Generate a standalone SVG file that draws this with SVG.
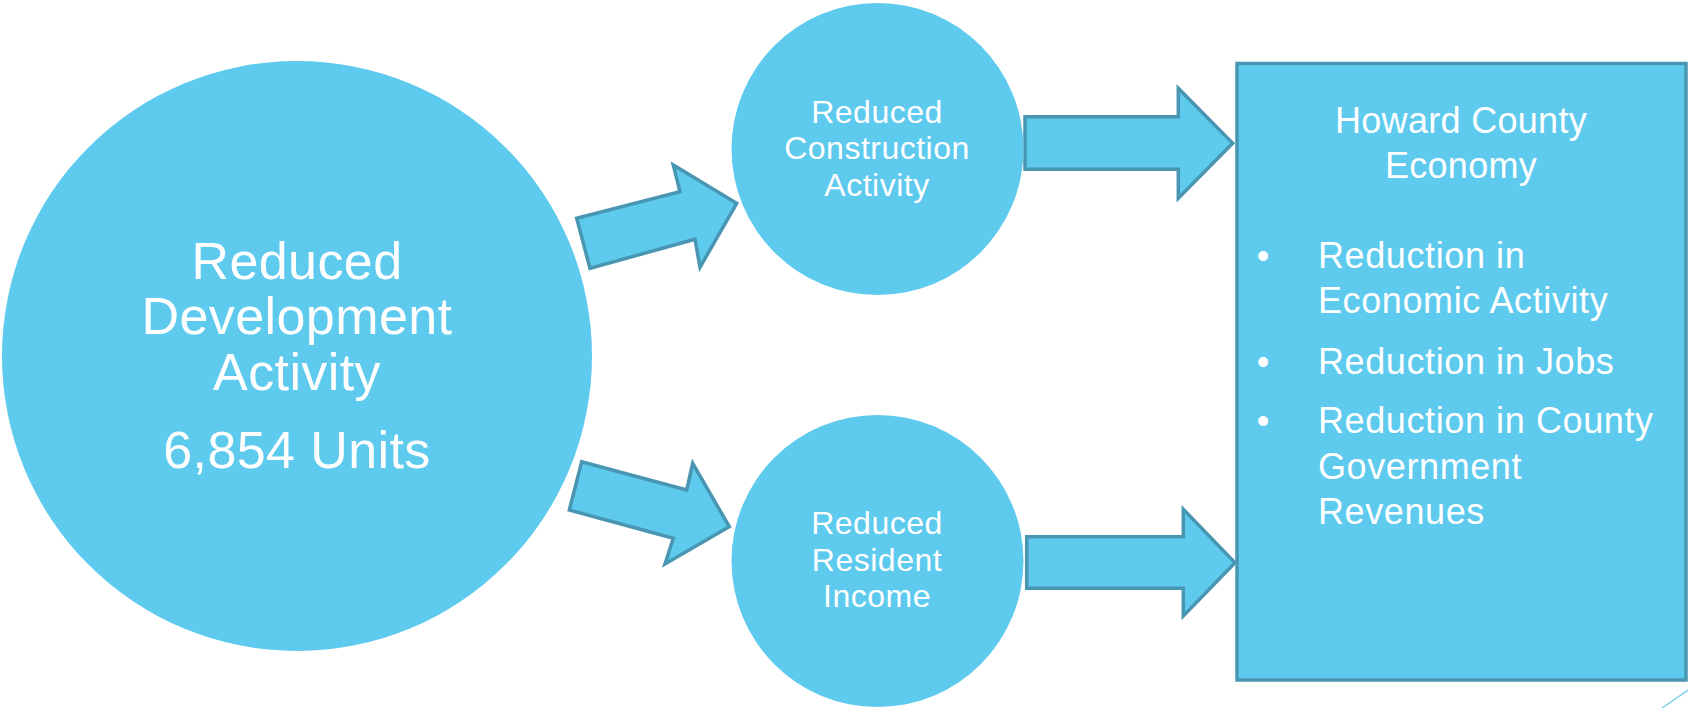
<svg xmlns="http://www.w3.org/2000/svg" width="1688" height="708" viewBox="0 0 1688 708">
  <style>
    .node { fill: #5ECAEE; }
    .box { fill: #5ECAEE; stroke: #4896B2; stroke-width: 3.5; }
    .arrow { fill: #5ECAEE; stroke: #4896B2; stroke-width: 3.5; stroke-linejoin: miter; }
    text { font-family: "Liberation Sans", Arial, sans-serif; fill: #FFFFFF; }
    .big { font-size: 52px; text-anchor: middle; letter-spacing: 0.4px; }
    .mid { font-size: 32px; text-anchor: middle; letter-spacing: 0.5px; }
    .head { font-size: 36px; text-anchor: middle; letter-spacing: 0.3px; }
    .item { font-size: 36px; letter-spacing: 0.6px; }
    .dot { font-size: 36px; text-anchor: middle; }
  </style>
  <rect width="1688" height="708" fill="#FFFFFF"/>

  <!-- connectors -->
  <g id="connectors">
    <polygon class="arrow" points="576.7,218.3 680,191.7 673.3,165 736.7,203.3 700,267.3 695,239.3 590,268.3"/>
    <polygon class="arrow" points="581.7,461.7 686.7,490 692.7,463.3 729.3,526.7 665,564 673.3,538.3 569.3,510"/>
    <polygon class="arrow" points="1025,116.7 1178.3,116.7 1178.3,88.3 1232.7,143.3 1178.3,198.3 1178.3,169.3 1025,169.3"/>
    <polygon class="arrow" points="1026.7,536.7 1183.3,536.7 1183.3,509.3 1235,562.7 1183.3,616 1183.3,588.3 1026.7,588.3"/>
  </g>

  <!-- source node -->
  <g id="development">
    <circle class="node" cx="297" cy="356" r="295"/>
    <text class="big" x="297" y="279">Reduced</text>
    <text class="big" x="297" y="334">Development</text>
    <text class="big" x="297" y="390">Activity</text>
    <text class="big" x="297" y="468">6,854 Units</text>
  </g>

  <g id="construction">
    <circle class="node" cx="877.5" cy="149" r="146"/>
    <text class="mid" x="877" y="122.7">Reduced</text>
    <text class="mid" x="877" y="159.3">Construction</text>
    <text class="mid" x="877" y="196">Activity</text>
  </g>

  <g id="income">
    <circle class="node" cx="877.5" cy="561" r="146"/>
    <text class="mid" x="877" y="534.3">Reduced</text>
    <text class="mid" x="877" y="571">Resident</text>
    <text class="mid" x="877" y="607.3">Income</text>
  </g>

  <g id="economy">
    <rect class="box" x="1237" y="63.5" width="449" height="616.5"/>
    <text class="head" x="1461" y="133">Howard County</text>
    <text class="head" x="1461" y="178">Economy</text>
    <text class="dot" x="1263" y="268">•</text>
    <text class="item" x="1318" y="268">Reduction in</text>
    <text class="item" x="1318" y="313">Economic Activity</text>
    <text class="dot" x="1263" y="374">•</text>
    <text class="item" x="1318" y="374">Reduction in Jobs</text>
    <text class="dot" x="1263" y="433">•</text>
    <text class="item" x="1318" y="433">Reduction in County</text>
    <text class="item" x="1318" y="479">Government</text>
    <text class="item" x="1318" y="524">Revenues</text>
  </g>

  <!-- corner accent line -->
  <line x1="1662" y1="708" x2="1688" y2="690" stroke="#7FD3F0" stroke-width="1.5"/>
</svg>
